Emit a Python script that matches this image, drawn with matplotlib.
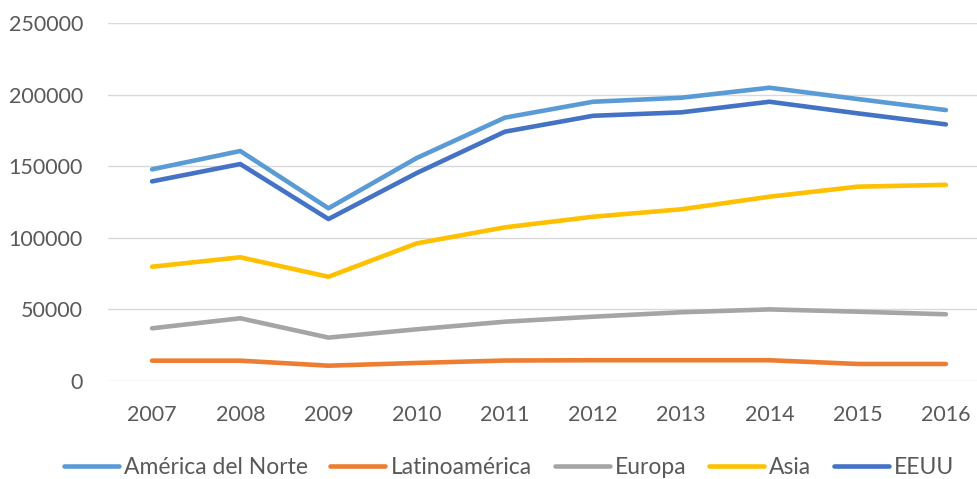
import matplotlib.pyplot as plt
import numpy as np

plt.rcParams['font.family'] = ['Lato', 'DejaVu Sans']

years = ['2007', '2008', '2009', '2010', '2011', '2012', '2013', '2014', '2015', '2016']

america_norte = [147800, 160600, 120600, 155700, 183900, 195000, 197800, 204800, 196900, 189200]
latinoamerica = [14200, 14200, 10700, 12600, 14300, 14500, 14500, 14500, 11900, 11900]
europa = [36800, 43800, 30300, 36100, 41400, 44900, 48000, 50000, 48400, 46600]
asia = [79800, 86400, 72800, 96100, 107300, 114700, 119900, 128700, 135700, 137000]
eeuu = [139400, 151500, 113100, 145200, 174100, 185200, 187600, 195000, 186900, 179200]

series = [
    ('América del Norte', america_norte, '#5B9BD5'),
    ('Latinoamérica', latinoamerica, '#ED7D31'),
    ('Europa', europa, '#A5A5A5'),
    ('Asia', asia, '#FFC000'),
    ('EEUU', eeuu, '#4472C4'),
]

text_col = '#595959'

fig = plt.figure(figsize=(9.77, 4.79), dpi=100)
ax = fig.add_axes([0.1105, 0.2046, 0.9028, 0.7474])

x = np.arange(len(years))
for name, vals, col in series:
    ax.plot(x, vals, color=col, lw=3.3, label=name,
            solid_capstyle='round', solid_joinstyle='round')

ax.set_xlim(-0.5, len(years) - 0.5)
ax.set_ylim(0, 250000)
ax.set_yticks(np.arange(0, 250001, 50000))
ax.set_yticklabels([str(v) for v in range(0, 250001, 50000)])
ax.set_xticks(x)
ax.set_xticklabels(years)

ax.grid(axis='y', color='#D9D9D9', lw=1)
ax.set_axisbelow(True)
for s in ax.spines.values():
    s.set_visible(False)
ax.tick_params(axis='both', length=0, labelsize=15.5, labelcolor=text_col)
ax.tick_params(axis='y', pad=18)
ax.tick_params(axis='x', pad=17)

fig.legend(loc='center', bbox_to_anchor=(0.521, 0.024), ncol=5, frameon=False,
           fontsize=16.5, labelcolor=text_col, handlelength=2.4, handletextpad=0.22,
           columnspacing=1.0, borderaxespad=0, borderpad=0)

fig.savefig('out.png', dpi=100)
